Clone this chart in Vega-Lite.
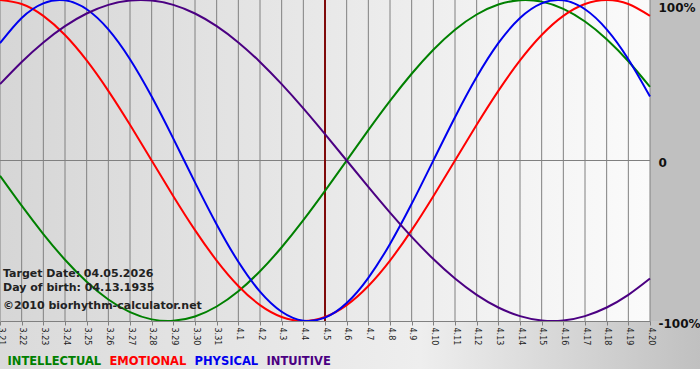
{
  "$schema": "https://vega.github.io/schema/vega-lite/v6.json",
  "width": 650,
  "height": 321,
  "autosize": {"type": "none"},
  "padding": {"left": 0, "top": 0, "right": 50, "bottom": 59},
  "background": "#ffffff",
  "config": {
    "view": {
      "stroke": null,
      "fill": {"gradient": "linear", "x1": 0, "y1": 0, "x2": 1, "y2": 0,
        "stops": [{"offset": 0, "color": "#d6d6d6"}, {"offset": 1, "color": "#fbfbfb"}]}
    }
  },
  "data": {"values": [
    {"date": "2026-03-21", "INTELLECTUAL": -0.0951, "EMOTIONAL": 1, "PHYSICAL": 0.7308, "INTUITIVE": 0.4759},
    {"date": "2026-03-22", "INTELLECTUAL": -0.2817, "EMOTIONAL": 0.9749, "PHYSICAL": 0.8879, "INTUITIVE": 0.6142},
    {"date": "2026-03-23", "INTELLECTUAL": -0.4582, "EMOTIONAL": 0.901, "PHYSICAL": 0.9791, "INTUITIVE": 0.7357},
    {"date": "2026-03-24", "INTELLECTUAL": -0.6182, "EMOTIONAL": 0.7818, "PHYSICAL": 0.9977, "INTUITIVE": 0.8372},
    {"date": "2026-03-25", "INTELLECTUAL": -0.7557, "EMOTIONAL": 0.6235, "PHYSICAL": 0.9423, "INTUITIVE": 0.9158},
    {"date": "2026-03-26", "INTELLECTUAL": -0.866, "EMOTIONAL": 0.4339, "PHYSICAL": 0.817, "INTUITIVE": 0.9694},
    {"date": "2026-03-27", "INTELLECTUAL": -0.945, "EMOTIONAL": 0.2225, "PHYSICAL": 0.6311, "INTUITIVE": 0.9966},
    {"date": "2026-03-28", "INTELLECTUAL": -0.9898, "EMOTIONAL": 0, "PHYSICAL": 0.3984, "INTUITIVE": 0.9966},
    {"date": "2026-03-29", "INTELLECTUAL": -0.9989, "EMOTIONAL": -0.2225, "PHYSICAL": 0.1362, "INTUITIVE": 0.9694},
    {"date": "2026-03-30", "INTELLECTUAL": -0.9718, "EMOTIONAL": -0.4339, "PHYSICAL": -0.1362, "INTUITIVE": 0.9158},
    {"date": "2026-03-31", "INTELLECTUAL": -0.9096, "EMOTIONAL": -0.6235, "PHYSICAL": -0.3984, "INTUITIVE": 0.8372},
    {"date": "2026-04-01", "INTELLECTUAL": -0.8146, "EMOTIONAL": -0.7818, "PHYSICAL": -0.6311, "INTUITIVE": 0.7357},
    {"date": "2026-04-02", "INTELLECTUAL": -0.6901, "EMOTIONAL": -0.901, "PHYSICAL": -0.817, "INTUITIVE": 0.6142},
    {"date": "2026-04-03", "INTELLECTUAL": -0.5406, "EMOTIONAL": -0.9749, "PHYSICAL": -0.9423, "INTUITIVE": 0.4759},
    {"date": "2026-04-04", "INTELLECTUAL": -0.3717, "EMOTIONAL": -1, "PHYSICAL": -0.9977, "INTUITIVE": 0.3247},
    {"date": "2026-04-05", "INTELLECTUAL": -0.1893, "EMOTIONAL": -0.9749, "PHYSICAL": -0.9791, "INTUITIVE": 0.1646},
    {"date": "2026-04-06", "INTELLECTUAL": 0, "EMOTIONAL": -0.901, "PHYSICAL": -0.8879, "INTUITIVE": 0},
    {"date": "2026-04-07", "INTELLECTUAL": 0.1893, "EMOTIONAL": -0.7818, "PHYSICAL": -0.7308, "INTUITIVE": -0.1646},
    {"date": "2026-04-08", "INTELLECTUAL": 0.3717, "EMOTIONAL": -0.6235, "PHYSICAL": -0.5196, "INTUITIVE": -0.3247},
    {"date": "2026-04-09", "INTELLECTUAL": 0.5406, "EMOTIONAL": -0.4339, "PHYSICAL": -0.2698, "INTUITIVE": -0.4759},
    {"date": "2026-04-10", "INTELLECTUAL": 0.6901, "EMOTIONAL": -0.2225, "PHYSICAL": 0, "INTUITIVE": -0.6142},
    {"date": "2026-04-11", "INTELLECTUAL": 0.8146, "EMOTIONAL": 0, "PHYSICAL": 0.2698, "INTUITIVE": -0.7357},
    {"date": "2026-04-12", "INTELLECTUAL": 0.9096, "EMOTIONAL": 0.2225, "PHYSICAL": 0.5196, "INTUITIVE": -0.8372},
    {"date": "2026-04-13", "INTELLECTUAL": 0.9718, "EMOTIONAL": 0.4339, "PHYSICAL": 0.7308, "INTUITIVE": -0.9158},
    {"date": "2026-04-14", "INTELLECTUAL": 0.9989, "EMOTIONAL": 0.6235, "PHYSICAL": 0.8879, "INTUITIVE": -0.9694},
    {"date": "2026-04-15", "INTELLECTUAL": 0.9898, "EMOTIONAL": 0.7818, "PHYSICAL": 0.9791, "INTUITIVE": -0.9966},
    {"date": "2026-04-16", "INTELLECTUAL": 0.945, "EMOTIONAL": 0.901, "PHYSICAL": 0.9977, "INTUITIVE": -0.9966},
    {"date": "2026-04-17", "INTELLECTUAL": 0.866, "EMOTIONAL": 0.9749, "PHYSICAL": 0.9423, "INTUITIVE": -0.9694},
    {"date": "2026-04-18", "INTELLECTUAL": 0.7557, "EMOTIONAL": 1, "PHYSICAL": 0.817, "INTUITIVE": -0.9158},
    {"date": "2026-04-19", "INTELLECTUAL": 0.6182, "EMOTIONAL": 0.9749, "PHYSICAL": 0.6311, "INTUITIVE": -0.8372},
    {"date": "2026-04-20", "INTELLECTUAL": 0.4582, "EMOTIONAL": 0.901, "PHYSICAL": 0.3984, "INTUITIVE": -0.7357}
  ]},
  "layer": [
    {
      "data": {"values": [{}]},
      "mark": {"type": "rect", "fill": "#c0c0c0"},
      "encoding": {
        "x": {"datum": {"year": 2026, "month": 4, "date": 20, "utc": true}, "type": "temporal",
          "scale": {"type": "utc", "domain": [{"year": 2026, "month": 3, "date": 21, "utc": true}, {"year": 2026, "month": 4, "date": 20, "utc": true}], "nice": false}},
        "x2": {"datum": {"year": 2026, "month": 4, "date": 22, "hours": 8, "utc": true}},
        "y": {"datum": 1.1, "type": "quantitative", "scale": {"domain": [-1, 1], "nice": false, "zero": false}},
        "y2": {"datum": -1}
      }
    },
    {
      "data": {"values": [{}]},
      "mark": {"type": "rect", "fill": {"gradient": "linear", "x1": 0, "y1": 0, "x2": 1, "y2": 0,
        "stops": [{"offset": 0, "color": "#dadada"}, {"offset": 0.6, "color": "#eeeeee"}, {"offset": 1, "color": "#c0c0c0"}]}},
      "encoding": {
        "x": {"datum": {"year": 2026, "month": 3, "date": 21, "utc": true}, "type": "temporal",
          "scale": {"type": "utc", "domain": [{"year": 2026, "month": 3, "date": 21, "utc": true}, {"year": 2026, "month": 4, "date": 20, "utc": true}], "nice": false}},
        "x2": {"datum": {"year": 2026, "month": 4, "date": 22, "hours": 8, "utc": true}},
        "y": {"datum": -1, "type": "quantitative", "scale": {"domain": [-1, 1], "nice": false, "zero": false}},
        "y2": {"datum": -1.299}
      }
    },
    {
      "mark": {"type": "rule", "color": "#808080", "strokeWidth": 1},
      "encoding": {
        "x": {"field": "date", "type": "temporal",
          "scale": {"type": "utc", "domain": [{"year": 2026, "month": 3, "date": 21, "utc": true}, {"year": 2026, "month": 4, "date": 20, "utc": true}], "nice": false}}
      }
    },
    {
      "data": {"values": [{}]},
      "mark": {"type": "rule", "color": "#808080", "strokeWidth": 1},
      "encoding": {
        "y": {"datum": 0, "type": "quantitative", "scale": {"domain": [-1, 1], "nice": false, "zero": false}}
      }
    },
    {
      "data": {"values": [{}]},
      "mark": {"type": "rule", "color": "#7f0a0a", "strokeWidth": 2},
      "encoding": {
        "x": {"datum": {"year": 2026, "month": 4, "date": 5, "utc": true}, "type": "temporal",
          "scale": {"type": "utc", "domain": [{"year": 2026, "month": 3, "date": 21, "utc": true}, {"year": 2026, "month": 4, "date": 20, "utc": true}], "nice": false}}
      }
    },
    {
      "transform": [{"fold": ["INTELLECTUAL", "EMOTIONAL", "PHYSICAL", "INTUITIVE"], "as": ["rhythm", "value"]}],
      "mark": {"type": "line", "strokeWidth": 2, "interpolate": "natural"},
      "encoding": {
        "x": {"field": "date", "type": "temporal",
          "scale": {"type": "utc", "domain": [{"year": 2026, "month": 3, "date": 21, "utc": true}, {"year": 2026, "month": 4, "date": 20, "utc": true}], "nice": false},
          "axis": {"format": "%-m.%-d", "tickCount": {"interval": "day", "step": 1}, "labelAngle": 90, "labelAlign": "left", "labelBaseline": "middle",
            "labelFlush": false, "labelOverlap": false, "labelPadding": 2, "labelFont": "DejaVu Sans", "labelFontSize": 8, "labelColor": "#222222",
            "tickColor": "#808080", "tickSize": 4, "domainColor": "#808080", "grid": false, "title": null, "zindex": 1}},
        "y": {"field": "value", "type": "quantitative",
          "scale": {"domain": [-1, 1], "nice": false, "zero": false},
          "axis": {"orient": "right", "values": [-1, 0, 1], "labelExpr": "datum.value == 1 ? '100%' : datum.value == 0 ? '0' : '-100%'",
            "ticks": false, "domain": false, "grid": false, "labelFlush": false,
            "labelBaseline": {"condition": {"test": "datum.value == 1", "value": "top"}, "value": "middle"},
            "labelOffset": 2,
            "labelPadding": 8, "labelFont": "DejaVu Sans", "labelFontSize": 12, "labelFontWeight": "bold", "labelColor": "#111111", "title": null, "zindex": 1}},
        "color": {"field": "rhythm", "type": "nominal",
          "scale": {"domain": ["INTELLECTUAL", "EMOTIONAL", "PHYSICAL", "INTUITIVE"], "range": ["#008000", "#ff0000", "#0000ee", "#4b0082"]},
          "legend": {"orient": "none", "legendX": 0, "legendY": 356, "direction": "horizontal", "title": null,
            "symbolSize": 0, "symbolStrokeWidth": 0, "symbolOpacity": 0, "labelOffset": -4, "columnPadding": 0, "padding": 0,
            "labelFont": "DejaVu Sans", "labelFontSize": 11.5, "labelFontWeight": "bold", "zindex": 1,
            "encode": {"labels": {"update": {"fill": {"scale": "color", "field": "value"}}}}}}
      }
    },
    {
      "data": {"values": [{"label": "Target Date: 04.05.2026"}]},
      "mark": {"type": "text", "align": "left", "baseline": "alphabetic", "dx": 3, "font": "DejaVu Sans", "fontSize": 11, "fontWeight": "bold", "color": "#222222"},
      "encoding": {
        "x": {"datum": {"year": 2026, "month": 3, "date": 21, "utc": true}, "type": "temporal",
          "scale": {"type": "utc", "domain": [{"year": 2026, "month": 3, "date": 21, "utc": true}, {"year": 2026, "month": 4, "date": 20, "utc": true}], "nice": false}},
        "y": {"datum": -0.726, "type": "quantitative", "scale": {"domain": [-1, 1], "nice": false, "zero": false}},
        "text": {"field": "label"}
      }
    },
    {
      "data": {"values": [{"label": "Day of birth: 04.13.1935"}]},
      "mark": {"type": "text", "align": "left", "baseline": "alphabetic", "dx": 3, "font": "DejaVu Sans", "fontSize": 11, "fontWeight": "bold", "color": "#222222"},
      "encoding": {
        "x": {"datum": {"year": 2026, "month": 3, "date": 21, "utc": true}, "type": "temporal",
          "scale": {"type": "utc", "domain": [{"year": 2026, "month": 3, "date": 21, "utc": true}, {"year": 2026, "month": 4, "date": 20, "utc": true}], "nice": false}},
        "y": {"datum": -0.813, "type": "quantitative", "scale": {"domain": [-1, 1], "nice": false, "zero": false}},
        "text": {"field": "label"}
      }
    },
    {
      "data": {"values": [{"label": "©2010 biorhythm-calculator.net"}]},
      "mark": {"type": "text", "align": "left", "baseline": "alphabetic", "dx": 3, "font": "DejaVu Sans", "fontSize": 11, "fontWeight": "bold", "color": "#222222"},
      "encoding": {
        "x": {"datum": {"year": 2026, "month": 3, "date": 21, "utc": true}, "type": "temporal",
          "scale": {"type": "utc", "domain": [{"year": 2026, "month": 3, "date": 21, "utc": true}, {"year": 2026, "month": 4, "date": 20, "utc": true}], "nice": false}},
        "y": {"datum": -0.925, "type": "quantitative", "scale": {"domain": [-1, 1], "nice": false, "zero": false}},
        "text": {"field": "label"}
      }
    }
  ]
}
